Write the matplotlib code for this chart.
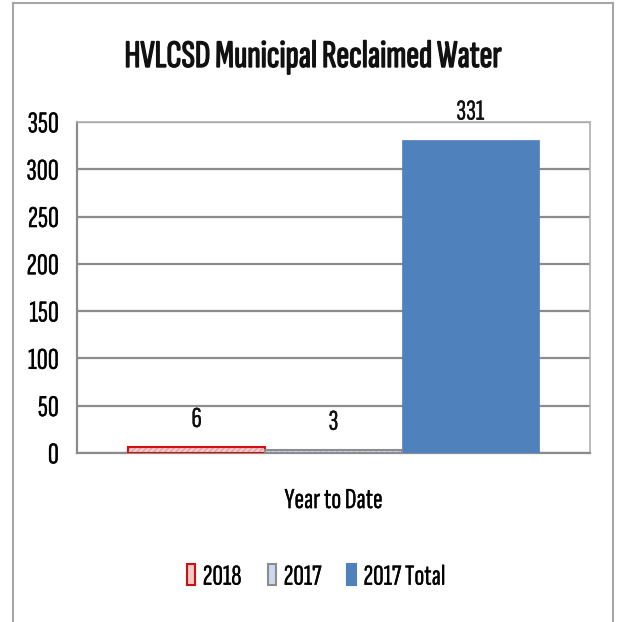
import matplotlib
matplotlib.use("Agg")
import matplotlib.pyplot as plt
from matplotlib.lines import Line2D
from matplotlib.patches import Patch
import matplotlib.patheffects as pe

plt.rcParams['font.family'] = ['Sofia Sans Extra Condensed', 'DejaVu Sans']

title = "HVLCSD Municipal Reclaimed Water"
categories = ["Year to Date"]
series_names = ["2018", "2017", "2017 Total"]
series_values = [6, 3, 331]
face_colors = ["#f4c9c9", "#c9d9ee", "#4f81bd"]
hatch_colors = ["#e3a3a3", "#a9bfdc", None]
edge_colors = ["#d01010", "#8c8c8c", "#4f81bd"]
yticks = [0, 50, 100, 150, 200, 250, 300, 350]

light = [pe.withStroke(linewidth=0.2, foreground='#111111')]

fig = plt.figure(figsize=(6.21, 6.22), dpi=100)
ax = fig.add_axes([77/621, 1-453/622, (590-77)/621, (453-122)/622])

width = 0.8 / 3
offsets = [-width, 0, width]
handles = []
for name, v, off, fc, hc, ec in zip(series_names, series_values, offsets, face_colors, hatch_colors, edge_colors):
    if hc is not None:
        ax.bar(0 + off, v, width=width, color=fc, edgecolor=hc, hatch='//////', linewidth=0, zorder=3)
        ax.bar(0 + off, v, width=width, fill=False, edgecolor=ec, linewidth=1.5, zorder=4)
    else:
        ax.bar(0 + off, v, width=width, color=fc, edgecolor=ec, linewidth=0.5, zorder=3)
    ax.annotate(f"{v}", (0 + off, v), xytext=(0, 11), textcoords='offset points',
                ha='center', va='bottom', fontsize=21, color='#111111', path_effects=light)
    handles.append(Patch(facecolor=fc, edgecolor=ec, linewidth=1.5, label=name))

ax.set_xlim(-0.5, 0.5)
ax.set_ylim(0, 350)
ax.set_yticks(yticks)
ax.set_yticklabels([str(t) for t in yticks], fontsize=22, path_effects=light)
ax.tick_params(axis='y', length=0, pad=13)
ax.set_xticks([0])
ax.set_xticklabels(categories, fontsize=21, path_effects=light)
ax.tick_params(axis='x', length=0, pad=26)
ax.grid(axis='y', color='#8c8c8c', linewidth=1.6, zorder=0)
ax.set_axisbelow(True)
for s in ['left', 'bottom']:
    ax.spines[s].set_color('#8c8c8c')
    ax.spines[s].set_linewidth(1.6)
for s in ['right', 'top']:
    ax.spines[s].set_color('#b0b0b0')
    ax.spines[s].set_linewidth(1.2)

fig.text(313/621, 1-67/622, title, ha='center', va='baseline',
         fontsize=28, color='#111111',
         path_effects=[pe.withStroke(linewidth=1.0, foreground='#111111')])

leg = fig.legend(handles=handles, loc='center', bbox_to_anchor=(316/621, 1-577/622), ncol=3, frameon=False,
                 fontsize=21, handlelength=0.3, handleheight=0.7, handletextpad=0.25,
                 columnspacing=0.9)
for t in leg.get_texts():
    t.set_path_effects(light)

# outer frame
fw = 1.5
fig.add_artist(Line2D([13/621, 13/621], [0, 1-3/622], transform=fig.transFigure, color='#a6a6a6', lw=fw))
fig.add_artist(Line2D([613/621, 613/621], [0, 1-3/622], transform=fig.transFigure, color='#a6a6a6', lw=fw))
fig.add_artist(Line2D([13/621, 613/621], [1-3/622, 1-3/622], transform=fig.transFigure, color='#a6a6a6', lw=fw))

fig.savefig("out.png", dpi=100)
